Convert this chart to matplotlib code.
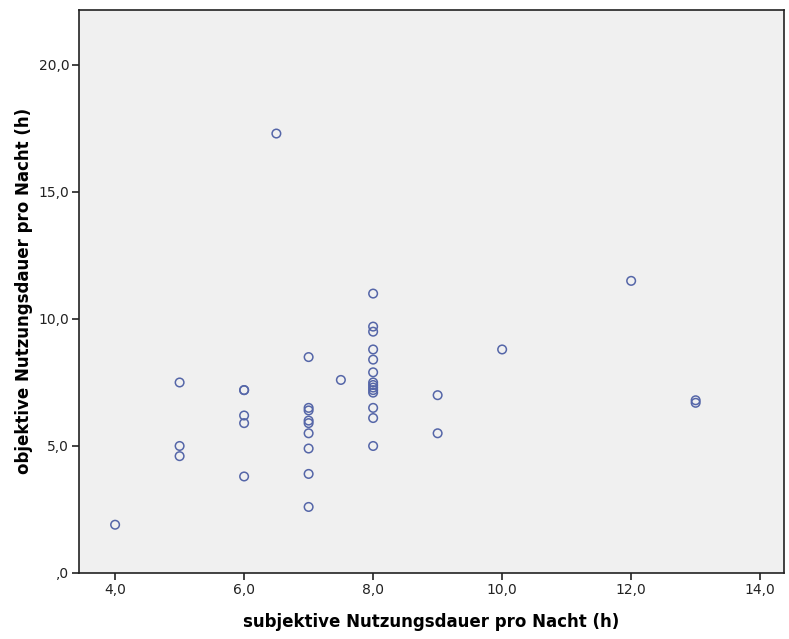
import matplotlib
matplotlib.use("Agg")
import matplotlib.pyplot as plt
from matplotlib.ticker import FuncFormatter

# Daten
subjektiv = [4, 5, 5, 5, 6, 6, 6, 6, 6,
             6.5,
             7, 7, 7, 7, 7, 7, 7, 7, 7,
             7.5,
             8, 8, 8, 8, 8, 8, 8, 8, 8, 8, 8, 8, 8, 8,
             9, 9, 10, 12, 13, 13]
objektiv = [1.9, 7.5, 5.0, 4.6, 7.2, 7.2, 6.2, 5.9, 3.8,
            17.3,
            8.5, 6.5, 6.4, 6.0, 5.9, 5.5, 4.9, 3.9, 2.6,
            7.6,
            11.0, 9.7, 9.5, 8.8, 8.4, 7.9, 7.5, 7.4, 7.3, 7.2, 7.1, 6.5, 6.1, 5.0,
            7.0, 5.5, 8.8, 11.5, 6.8, 6.7]

x_ticks = [4, 6, 8, 10, 12, 14]
y_ticks = [0, 5, 10, 15, 20]


def komma(v, pos):
    s = f"{v:.1f}".replace(".", ",")
    return s[1:] if s.startswith("0,") else s


fig = plt.figure(figsize=(7.89, 6.39), dpi=100)
ax = fig.add_axes([0.1001, 0.1033, 0.8936, 0.8817])
ax.set_facecolor("#f0f0f0")

ax.scatter(subjektiv, objektiv, s=38, facecolors="none",
           edgecolors="#5566a8", linewidths=1.1, zorder=3)

ax.set_xlim(3.44, 14.37)
ax.set_ylim(0, 22.18)
ax.set_xticks(x_ticks)
ax.set_yticks(y_ticks)
ax.xaxis.set_major_formatter(FuncFormatter(komma))
ax.yaxis.set_major_formatter(FuncFormatter(komma))
ax.tick_params(length=5, width=1.2, labelsize=10, colors="#222222", pad=2)

for sp in ax.spines.values():
    sp.set_linewidth(1.2)
    sp.set_color("#222222")

ax.set_xlabel("subjektive Nutzungsdauer pro Nacht (h)", fontsize=12,
              fontweight="bold", labelpad=12)
ax.set_ylabel("objektive Nutzungsdauer pro Nacht (h)", fontsize=12,
              fontweight="bold", labelpad=4)

fig.savefig("out.png", dpi=100)
